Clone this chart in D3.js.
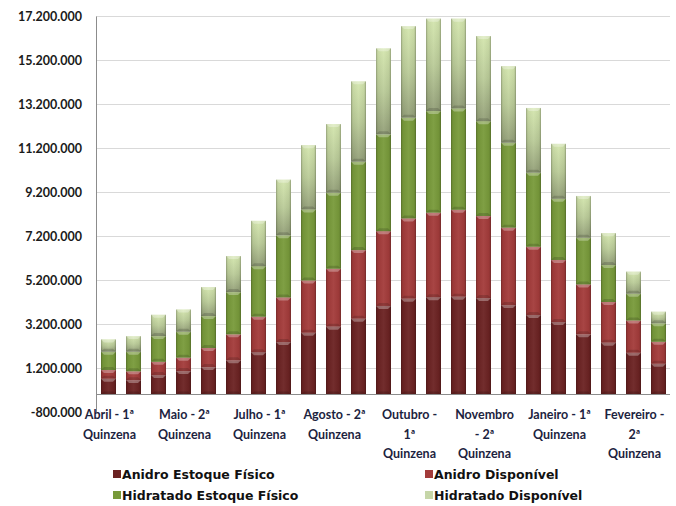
<!DOCTYPE html>
<html>
<head>
<meta charset="utf-8">
<script src="https://cdn.jsdelivr.net/npm/d3@7/dist/d3.min.js"></script>
<style>
  html, body { margin: 0; padding: 0; background: #ffffff; }
  svg { display: block; }
  text { font-family: Lato, "Open Sans", sans-serif; }
  text.legend-label { font-family: "DejaVu Sans", sans-serif; }
</style>
</head>
<body>
<svg id="chart" width="676" height="506"></svg>
<script>
// Fortnights from April to the following March
const categories = [
  "Abril - 1ª Quinzena", "Abril - 2ª Quinzena", "Maio - 1ª Quinzena", "Maio - 2ª Quinzena",
  "Junho - 1ª Quinzena", "Junho - 2ª Quinzena", "Julho - 1ª Quinzena", "Julho - 2ª Quinzena",
  "Agosto - 1ª Quinzena", "Agosto - 2ª Quinzena", "Setembro - 1ª Quinzena", "Setembro - 2ª Quinzena",
  "Outubro - 1ª Quinzena", "Outubro - 2ª Quinzena", "Novembro - 1ª Quinzena", "Novembro - 2ª Quinzena",
  "Dezembro - 1ª Quinzena", "Dezembro - 2ª Quinzena", "Janeiro - 1ª Quinzena", "Janeiro - 2ª Quinzena",
  "Fevereiro - 1ª Quinzena", "Fevereiro - 2ª Quinzena", "Março - 1ª Quinzena"
];

// Stocks (m³)
const anidroEstoqueFisico = [
  710000, 650000, 880000, 1060000, 1240000, 1550000, 1920000, 2380000, 2800000, 3080000, 3440000, 4020000,
  4350000, 4420000, 4440000, 4380000, 4060000, 3610000, 3290000, 2730000, 2350000, 1890000, 1390000
];
const anidroDisponivel = [
  400000, 400000, 600000, 610000, 870000, 1180000, 1610000, 2030000, 2380000, 2630000, 3120000, 3400000,
  3650000, 3840000, 3950000, 3730000, 3520000, 3100000, 2820000, 2270000, 1850000, 1470000, 1000000
];
const hidratadoEstoqueFisico = [
  830000, 890000, 1170000, 1180000, 1450000, 1920000, 2300000, 2820000, 3230000, 3460000, 4020000, 4400000,
  4580000, 4620000, 4610000, 4310000, 3860000, 3370000, 2780000, 2120000, 1680000, 1220000, 840000
];
const hidratadoDisponivel = [
  560000, 710000, 970000, 1010000, 1320000, 1640000, 2060000, 2530000, 2920000, 3120000, 3650000, 3910000,
  4160000, 4200000, 4080000, 3870000, 3480000, 2940000, 2500000, 1900000, 1450000, 1000000, 530000
];

const seriesNames = ["Anidro Estoque Físico", "Anidro Disponível", "Hidratado Estoque Físico", "Hidratado Disponível"];
const yTicks = [-800000, 1200000, 3200000, 5200000, 7200000, 9200000, 11200000, 13200000, 15200000, 17200000];

// Every third fortnight is labelled, wrapped onto lines
const xLabelIndex = [0, 3, 6, 9, 12, 15, 18, 21];
const xLabelLines = [
  ["Abril - 1ª", "Quinzena"],
  ["Maio - 2ª", "Quinzena"],
  ["Julho - 1ª", "Quinzena"],
  ["Agosto - 2ª", "Quinzena"],
  ["Outubro -", "1ª", "Quinzena"],
  ["Novembro", "- 2ª", "Quinzena"],
  ["Janeiro - 1ª", "Quinzena"],
  ["Fevereiro -", "2ª", "Quinzena"]
];

const colors = ["#6b2222", "#a33b3a", "#789a3a", "#bcd195"];

const svg = d3.select("#chart");
const plotLeft = 96, plotRight = 671, plotTop = 16, plotBottom = 412;

const x = d3.scaleBand().domain(d3.range(categories.length))
  .range([plotLeft, plotRight]).paddingInner(0.4).paddingOuter(0.2);
const y = d3.scaleLinear().domain([-800000, 17200000]).range([plotBottom, plotTop]);

// Thousands separated by dots, plain hyphen for negatives
const fmt = v => (v < 0 ? "-" : "") + d3.format(",")(Math.abs(v)).replace(/,/g, ".");

// Gradients for the bevelled bar look
const defs = svg.append("defs");
const shade = defs.append("linearGradient").attr("id", "shadeH").attr("x1", 0).attr("x2", 1).attr("y1", 0).attr("y2", 0);
shade.append("stop").attr("offset", 0).attr("stop-color", "#000").attr("stop-opacity", 0.28);
shade.append("stop").attr("offset", 0.12).attr("stop-color", "#000").attr("stop-opacity", 0.05);
shade.append("stop").attr("offset", 0.5).attr("stop-color", "#fff").attr("stop-opacity", 0.05);
shade.append("stop").attr("offset", 0.88).attr("stop-color", "#000").attr("stop-opacity", 0.05);
shade.append("stop").attr("offset", 1).attr("stop-color", "#000").attr("stop-opacity", 0.3);

const lightGrad = defs.append("linearGradient").attr("id", "lightV").attr("x1", 0).attr("x2", 0).attr("y1", 0).attr("y2", 1);
lightGrad.append("stop").attr("offset", 0).attr("stop-color", "#d4e6ae");
lightGrad.append("stop").attr("offset", 0.5).attr("stop-color", "#bacb98");
lightGrad.append("stop").attr("offset", 1).attr("stop-color", "#939f78");

// Gridlines
svg.append("g").selectAll("line").data(yTicks.filter(t => t > -800000)).join("line")
  .attr("x1", plotLeft).attr("x2", plotRight - 1)
  .attr("y1", d => Math.round(y(d)) + 0.5).attr("y2", d => Math.round(y(d)) + 0.5)
  .attr("stroke", "#d9d9d9").attr("stroke-width", 1.2);

// Y axis
const yAxis = svg.append("g").attr("transform", `translate(${plotLeft},0)`)
  .call(d3.axisLeft(y).tickValues(yTicks).tickFormat(fmt).tickSize(0).tickPadding(14));
yAxis.select(".domain").attr("stroke", "#8c8c8c");
yAxis.selectAll("text").attr("font-size", 12.5).attr("font-weight", 700).attr("fill", "#1a1a1a")
  .attr("dy", "0.35em");

// Stack the four series
const rows = categories.map((c, i) => ({
  i,
  [seriesNames[0]]: anidroEstoqueFisico[i],
  [seriesNames[1]]: anidroDisponivel[i],
  [seriesNames[2]]: hidratadoEstoqueFisico[i],
  [seriesNames[3]]: hidratadoDisponivel[i]
}));
const stacked = d3.stack().keys(seriesNames)(rows);

const bw = x.bandwidth();
stacked.forEach((layer, si) => {
  const g = svg.append("g");
  layer.forEach(d => {
    const i = d.data.i;
    const x0 = x(i), y0 = y(d[1]), h = y(d[0]) - y(d[1]);
    g.append("rect").attr("x", x0).attr("y", y0).attr("width", bw).attr("height", h)
      .attr("fill", si === 3 ? "url(#lightV)" : colors[si]);
    g.append("rect").attr("x", x0).attr("y", y0).attr("width", bw).attr("height", h)
      .attr("fill", "url(#shadeH)");
    // top bevel
    const b = Math.min(3, h / 3);
    g.append("path")
      .attr("d", `M${x0},${y0}L${x0 + bw},${y0}L${x0 + bw - b},${y0 + b}L${x0 + b},${y0 + b}Z`)
      .attr("fill", "#fff").attr("fill-opacity", 0.3);
    // bottom bevel
    g.append("path")
      .attr("d", `M${x0},${y0 + h}L${x0 + bw},${y0 + h}L${x0 + bw - b},${y0 + h - b}L${x0 + b},${y0 + h - b}Z`)
      .attr("fill", "#000").attr("fill-opacity", 0.15);
  });
});

// Zero baseline
svg.append("line").attr("x1", plotLeft).attr("x2", plotRight - 1)
  .attr("y1", Math.round(y(0)) + 0.5).attr("y2", Math.round(y(0)) + 0.5)
  .attr("stroke", "#8c8c8c").attr("stroke-width", 1);

// Category labels
const xl = svg.append("g");
xLabelIndex.forEach((ci, k) => {
  const t = xl.append("text").attr("text-anchor", "middle")
    .attr("font-size", 12.5).attr("font-weight", 700).attr("fill", "#1c2340");
  xLabelLines[k].forEach((line, li) => {
    t.append("tspan").attr("x", x(ci) + bw / 2 + 1).attr("y", 419 + li * 19.5).text(line);
  });
});

// Legend
const legend = svg.append("g");
const legPos = [[113, 474], [425, 474], [113, 495], [425, 495]];
seriesNames.forEach((name, i) => {
  const [lx, ly] = legPos[i];
  legend.append("rect").attr("x", lx).attr("y", ly - 4).attr("width", 8).attr("height", 8)
    .attr("fill", i === 3 ? "#c6d6a8" : colors[i]);
  legend.append("text").attr("class", "legend-label").attr("x", lx + 9).attr("y", ly + 4.5)
    .attr("font-size", 12.5).attr("font-weight", 700).attr("fill", "#111").text(name);
});
</script>
</body>
</html>
